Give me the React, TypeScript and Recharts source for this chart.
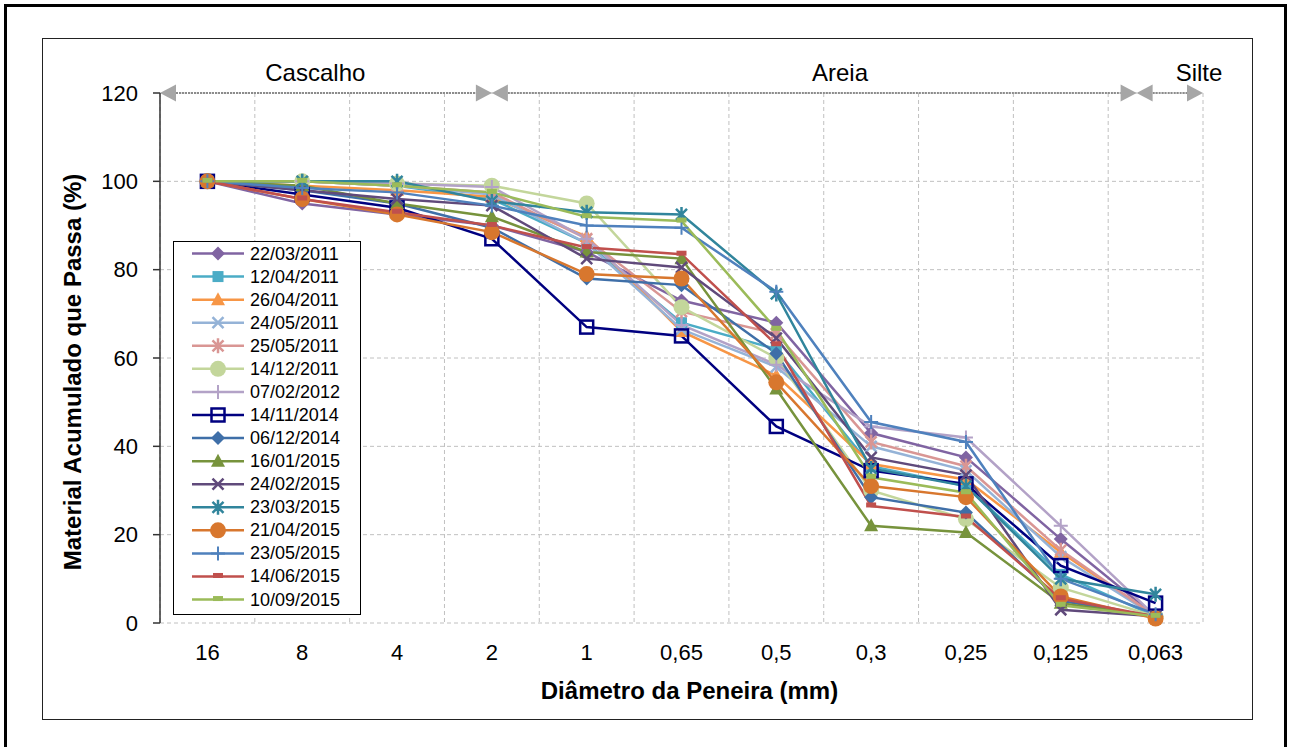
import React from "react";
import { CartesianGrid, Legend, Line, LineChart, ReferenceLine, XAxis, YAxis } from "recharts";

const sieves = ["16", "8", "4", "2", "1", "0,65", "0,5", "0,3", "0,25", "0,125", "0,063"];
const boundaryTicks = [0, 1, 2, 3, 4, 5, 6, 7, 8, 9, 10, 11];
const centerTicks = [0.5, 1.5, 2.5, 3.5, 4.5, 5.5, 6.5, 7.5, 8.5, 9.5, 10.5];
const yTicks = [0, 20, 40, 60, 80, 100, 120];

// % passing per sampling date, one value per sieve
const s22032011 = [100, 95, 92.5, 90, 84, 73, 68, 43, 37.5, 19, 1.5];
const s12042011 = [100, 100, 99, 96, 86, 68, 62, 35.5, 31, 11, 1.5];
const s26042011 = [100, 99, 98, 96.5, 87.5, 66, 56, 36, 32.5, 16, 1.5];
const s24052011 = [100, 100, 99, 97, 86, 66.5, 58, 40, 34.5, 15, 1.5];
const s25052011 = [100, 100, 99, 97.5, 87, 70.5, 65.5, 41, 35.5, 16.5, 1.5];
const s14122011 = [100, 100, 99.5, 99, 95, 71.5, 60, 30, 23.5, 8, 1.5];
const s07022012 = [100, 100, 99.5, 98.7, 87, 67.5, 58.5, 44.5, 42, 22, 1.5];
const s14112014 = [100, 97, 94, 87, 67, 65, 44.5, 34.5, 31.5, 13, 4.5];
const s06122014 = [100, 98, 95, 89.5, 78, 76.5, 61, 28.5, 25, 5, 1.5];
const s16012015 = [100, 99, 95, 92, 84, 82.5, 53, 22, 20.5, 4.5, 1.5];
const s24022015 = [100, 98, 96, 94.5, 82.5, 80.5, 64.5, 37.5, 33.5, 3, 1.5];
const s23032015 = [100, 100, 100, 95.5, 93, 92.5, 74.5, 35, 31, 10, 6.5];
const s21042015 = [100, 96, 92.5, 88.5, 79, 78, 54.5, 31, 28.5, 6, 1];
const s23052015 = [100, 98.5, 97.5, 94.5, 90, 89.5, 75, 45.5, 41, 10, 2];
const s14062015 = [100, 96, 93, 90, 85, 83.5, 63, 26.5, 24, 5.5, 1.5];
const s10092015 = [100, 100, 99, 97.5, 92, 91, 66.5, 33, 29.5, 4, 1.5];

const series = [
  { name: "22/03/2011", values: s22032011, color: "#8064A2", marker: "diamond" },
  { name: "12/04/2011", values: s12042011, color: "#4BACC6", marker: "square" },
  { name: "26/04/2011", values: s26042011, color: "#F79646", marker: "triangle" },
  { name: "24/05/2011", values: s24052011, color: "#95B3D7", marker: "x" },
  { name: "25/05/2011", values: s25052011, color: "#D99694", marker: "star" },
  { name: "14/12/2011", values: s14122011, color: "#C3D69B", marker: "circle" },
  { name: "07/02/2012", values: s07022012, color: "#B3A2C7", marker: "plus" },
  { name: "14/11/2014", values: s14112014, color: "#000080", marker: "openSquare" },
  { name: "06/12/2014", values: s06122014, color: "#3F6FA8", marker: "diamond" },
  { name: "16/01/2015", values: s16012015, color: "#77933C", marker: "triangle" },
  { name: "24/02/2015", values: s24022015, color: "#604A7B", marker: "x" },
  { name: "23/03/2015", values: s23032015, color: "#31859C", marker: "star" },
  { name: "21/04/2015", values: s21042015, color: "#D8772E", marker: "circle" },
  { name: "23/05/2015", values: s23052015, color: "#4F81BD", marker: "plus" },
  { name: "14/06/2015", values: s14062015, color: "#C0504D", marker: "dash" },
  { name: "10/09/2015", values: s10092015, color: "#9BBB59", marker: "dash" },
];

const data = sieves.map((label, i) => {
  const row: Record<string, number | string> = { pos: centerTicks[i], label };
  series.forEach((s, k) => {
    row[`s${k}`] = s.values[i];
  });
  return row;
});

const FONT = "'Liberation Sans', Arial, sans-serif";

function Marker({ kind, cx, cy, color }: { kind: string; cx: number; cy: number; color: string }) {
  if (cx == null || cy == null) return null;
  switch (kind) {
    case "diamond":
      return <polygon points={`${cx},${cy - 7} ${cx + 7},${cy} ${cx},${cy + 7} ${cx - 7},${cy}`} fill={color} />;
    case "square":
      return <rect x={cx - 5.5} y={cy - 5.5} width={11} height={11} fill={color} />;
    case "triangle":
      return <polygon points={`${cx},${cy - 7.5} ${cx + 7},${cy + 5.5} ${cx - 7},${cy + 5.5}`} fill={color} />;
    case "x":
      return (
        <path d={`M${cx - 5.5},${cy - 5.5}L${cx + 5.5},${cy + 5.5}M${cx - 5.5},${cy + 5.5}L${cx + 5.5},${cy - 5.5}`} stroke={color} strokeWidth={2.5} />
      );
    case "star":
      return (
        <path
          d={`M${cx - 5.5},${cy - 5.5}L${cx + 5.5},${cy + 5.5}M${cx - 5.5},${cy + 5.5}L${cx + 5.5},${cy - 5.5}M${cx},${cy - 7.5}L${cx},${cy + 7.5}`}
          stroke={color}
          strokeWidth={2.5}
        />
      );
    case "circle":
      return <circle cx={cx} cy={cy} r={8} fill={color} />;
    case "plus":
      return <path d={`M${cx - 7},${cy}L${cx + 7},${cy}M${cx},${cy - 7}L${cx},${cy + 7}`} stroke={color} strokeWidth={2} />;
    case "openSquare":
      return <rect x={cx - 6.5} y={cy - 6.5} width={13} height={13} fill="none" stroke={color} strokeWidth={2.5} />;
    case "dash":
      return <rect x={cx - 5} y={cy - 3.5} width={10} height={5} fill={color} />;
    default:
      return null;
  }
}

function HeaderArrow(p: any) {
  const { x1, y1, x2, text, frac } = p;
  const L = 16;
  const H = 8.5;
  return (
    <g>
      <line x1={x1 + L} y1={y1} x2={x2 - L} y2={y1} stroke="#8c8c8c" strokeWidth={2} strokeDasharray="2 1" />
      <polygon points={`${x1},${y1} ${x1 + L},${y1 - H} ${x1 + L},${y1 + H}`} fill="#a6a6a6" />
      <polygon points={`${x2},${y1} ${x2 - L},${y1 - H} ${x2 - L},${y1 + H}`} fill="#a6a6a6" />
      <text x={x1 + (x2 - x1) * frac} y={y1 - 12} textAnchor="middle" fontSize={24} fill="#000" fontFamily={FONT}>
        {text}
      </text>
    </g>
  );
}

function LegendBox() {
  const rowH = 23.07;
  return (
    <svg width={186} height={372} style={{ display: "block" }}>
      {series.map((s, i) => {
        const y = 11.5 + i * rowH;
        return (
          <g key={s.name}>
            <line x1={18} y1={y} x2={70} y2={y} stroke={s.color} strokeWidth={2.5} />
            <Marker kind={s.marker} cx={44} cy={y} color={s.color} />
            <text x={76} y={y} dominantBaseline="central" fontSize={18} fill="#000" fontFamily={FONT}>
              {s.name}
            </text>
          </g>
        );
      })}
    </svg>
  );
}

export default function App() {
  return (
    <div style={{ position: "absolute", left: 0, top: 0, width: 1290, height: 747, background: "#fff", overflow: "hidden", fontFamily: FONT }}>
      <div style={{ position: "absolute", left: 4, top: 4, width: 1283, height: 780, border: "3px solid #000", boxSizing: "border-box" }} />
      <div style={{ position: "absolute", left: 42, top: 38, width: 1211, height: 682, border: "1.5px solid #222", boxSizing: "border-box" }} />
      <div style={{ position: "absolute", left: 0, top: 0 }}>
        <LineChart width={1290} height={747} data={data} margin={{ top: 93, right: 87, bottom: 54, left: 60 }}>
          <CartesianGrid stroke="#c0c0c0" strokeDasharray="4 3" />
          <XAxis
            dataKey="pos"
            type="number"
            domain={[0, 11]}
            allowDataOverflow
            ticks={boundaryTicks}
            interval={0}
            height={0}
            tickFormatter={() => ""}
            tickSize={7}
            stroke="#333"
            strokeWidth={1.5}
          />
          <XAxis
            xAxisId="lab"
            dataKey="pos"
            type="number"
            domain={[0, 11]}
            allowDataOverflow
            ticks={centerTicks}
            interval={0}
            height={70}
            axisLine={false}
            tickLine={false}
            tickMargin={15}
            tickFormatter={(v) => sieves[Math.round(Number(v) - 0.5)] ?? ""}
            tick={{ fontSize: 22, fill: "#000", fontFamily: FONT }}
            label={{
              content: (p: any) => {
                const vb = p.viewBox;
                return (
                  <text
                    x={vb.x + vb.width / 2 + 8}
                    y={vb.y + 67}
                    textAnchor="middle"
                    dominantBaseline="central"
                    fontSize={24}
                    fontWeight="bold"
                    fontFamily={FONT}
                    fill="#000"
                  >
                    Diâmetro da Peneira (mm)
                  </text>
                );
              },
            }}
          />
          <YAxis
            domain={[0, 120]}
            ticks={yTicks}
            interval={0}
            width={100}
            tickSize={7}
            tickMargin={15}
            stroke="#333"
            strokeWidth={1.5}
            tick={{ fontSize: 22, fill: "#000", fontFamily: FONT }}
            label={{
              content: (p: any) => {
                const vb = p.viewBox;
                const cx = vb.x + 12;
                const cy = vb.y + vb.height / 2 + 14;
                return (
                  <text
                    x={cx}
                    y={cy}
                    transform={`rotate(-90 ${cx} ${cy})`}
                    textAnchor="middle"
                    dominantBaseline="central"
                    fontSize={24}
                    fontWeight="bold"
                    fontFamily={FONT}
                    fill="#000"
                  >
                    Material Acumulado que Passa (%)
                  </text>
                );
              },
            }}
          />
          <YAxis yAxisId="right" orientation="right" domain={[0, 120]} width={0} tick={false} tickLine={false} stroke="#333" strokeWidth={1.5} />
          <ReferenceLine
            segment={[{ x: 0, y: 120 }, { x: 3.5, y: 120 }]}
            ifOverflow="visible"
            shape={(p: any) => <HeaderArrow {...p} text="Cascalho" frac={0.468} />}
          />
          <ReferenceLine
            segment={[{ x: 3.5, y: 120 }, { x: 10.3, y: 120 }]}
            ifOverflow="visible"
            shape={(p: any) => <HeaderArrow {...p} text="Areia" frac={0.54} />}
          />
          <ReferenceLine
            segment={[{ x: 10.3, y: 120 }, { x: 11, y: 120 }]}
            ifOverflow="visible"
            shape={(p: any) => <HeaderArrow {...p} text="Silte" frac={0.94} />}
          />
          {series.map((s, k) => (
            <Line
              key={s.name}
              type="linear"
              dataKey={`s${k}`}
              name={s.name}
              stroke={s.color}
              strokeWidth={2.5}
              isAnimationActive={false}
              activeDot={false}
              dot={(p: any) => <Marker key={`m${k}-${p.index}`} kind={s.marker} cx={p.cx} cy={p.cy} color={s.color} />}
            />
          ))}
          <Legend
            layout="vertical"
            align="center"
            verticalAlign="middle"
            content={() => <LegendBox />}
            wrapperStyle={{
              left: 173,
              top: 241,
              width: 186,
              height: 372,
              border: "1.5px solid #000",
              background: "#fff",
              boxSizing: "content-box",
              padding: 0,
            }}
          />
        </LineChart>
      </div>
    </div>
  );
}
